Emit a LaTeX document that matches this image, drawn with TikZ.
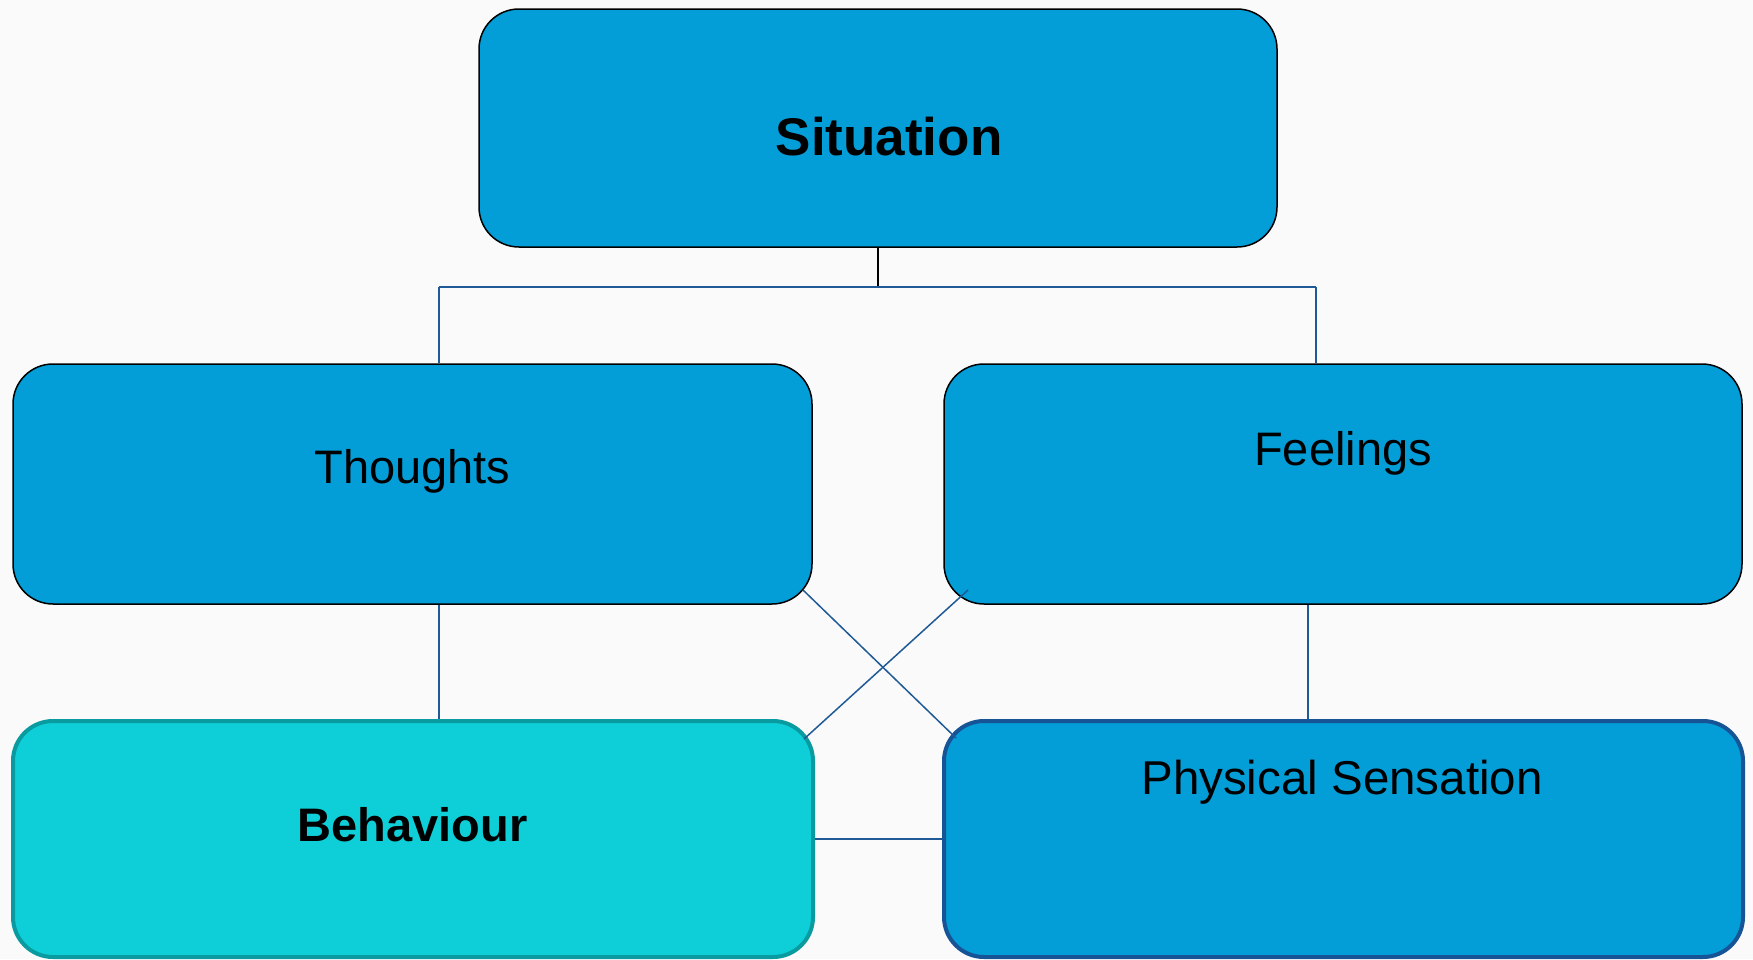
\documentclass[tikz,border=0pt]{standalone}
\usepackage{fontspec}
\setmainfont{Liberation Sans}
\definecolor{boxblue}{RGB}{3,157,216}
\definecolor{behfill}{RGB}{14,207,216}
\definecolor{behline}{RGB}{10,155,160}
\definecolor{physline}{RGB}{22,84,150}
\definecolor{conn}{RGB}{31,90,150}
\definecolor{bgcol}{RGB}{250,250,250}
\begin{document}
\begin{tikzpicture}[x=1pt,y=-1pt,
  box/.style={draw=black, line width=1.5pt, fill=boxblue, rounded corners=40pt, inner sep=0pt},
  lbl/.style={anchor=base, inner sep=0pt, text=black},
  link/.style={draw=conn, line width=1.5pt}]
\fill[bgcol] (0,0) rectangle (1753,959);
\useasboundingbox (0,0) rectangle (1753,959);
% boxes
\node[box, minimum width=798pt, minimum height=238pt] (sit) at (878,128) {};
\node[box, minimum width=799pt, minimum height=240pt] (tho) at (412.5,484) {};
\node[box, minimum width=798pt, minimum height=240pt] (fee) at (1343,484) {};
\node[box, draw=behline, line width=4pt, fill=behfill, minimum width=800pt, minimum height=236pt] (beh) at (413,839) {};
\node[box, draw=physline, line width=4pt, minimum width=799pt, minimum height=236pt] (phy) at (1343.5,839) {};
% labels
\node[lbl, font=\fontsize{53}{60}\selectfont\bfseries] (tsit) at (889,155) {Situation};
\node[lbl, font=\fontsize{47}{54}\selectfont] (ttho) at (412.5,483) {Thoughts};
\node[lbl, font=\fontsize{47}{54}\selectfont] (tfee) at (1343,465) {Feelings};
\node[lbl, font=\fontsize{47}{54}\selectfont\bfseries] (tbeh) at (412.5,841) {Behaviour};
\node[lbl, font=\fontsize{47.5}{54}\selectfont] (tphy) at (1342,794) {Physical Sensation};
% connector coordinates
\coordinate (barL) at (439,287);
\coordinate (barR) at (1316,287);
\coordinate (barM) at (878,287);
\coordinate (thoC) at (803,590);
\coordinate (phyC) at (956,738);
\coordinate (feeC) at (968,590);
\coordinate (behC) at (804,739);
% connectors
\draw[black, line width=1.5pt] (sit.south) -- (barM);
\draw[link] (barL) -- (barR);
\draw[link] (barL) -- (barL |- tho.north);
\draw[link] (barR) -- (barR |- fee.north);
\draw[link] (tho.south -| barL) -- (barL |- beh.north);
\draw[link] (fee.south -| 1308,0) -- (beh.north -| 1308,0);
\draw[link] (thoC) -- (phyC);
\draw[link] (feeC) -- (behC);
\draw[link] (beh.east) -- (phy.west);
\end{tikzpicture}
\end{document}
